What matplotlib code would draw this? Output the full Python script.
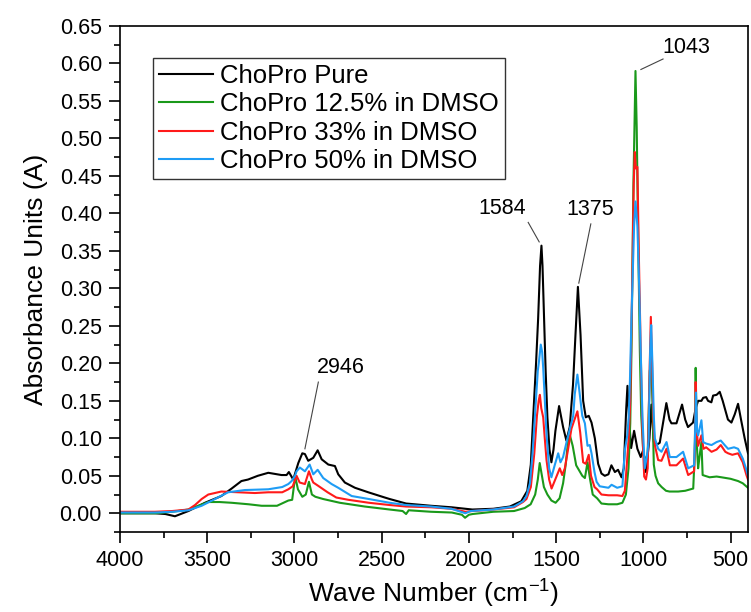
import matplotlib
matplotlib.use("Agg")
import matplotlib.pyplot as plt
from matplotlib.ticker import MultipleLocator, FormatStrFormatter

plt.rcParams["font.family"] = ["Liberation Sans", "DejaVu Sans"]
plt.rcParams["mathtext.default"] = "regular"

### --- data (wave number, absorbance) --- ###
pure = [
    (4000, 0.000), (3900, 0.000), (3800, 0.000), (3740, -0.001), (3685, -0.004),
    (3608, 0.003), (3513, 0.014), (3419, 0.023), (3360, 0.033), (3304, 0.043),
    (3266, 0.045), (3210, 0.050), (3150, 0.054), (3074, 0.051), (3045, 0.051),
    (3032, 0.055), (3007, 0.045), (2978, 0.067), (2955, 0.080), (2940, 0.079),
    (2921, 0.070), (2892, 0.074), (2867, 0.084), (2844, 0.072), (2806, 0.065),
    (2768, 0.063), (2749, 0.052), (2711, 0.041), (2653, 0.034), (2577, 0.028),
    (2482, 0.021), (2454, 0.019), (2360, 0.013), (2217, 0.010), (2100, 0.008),
    (1980, 0.005), (1860, 0.006), (1765, 0.009), (1700, 0.016), (1665, 0.030),
    (1645, 0.065), (1632, 0.125), (1615, 0.200), (1603, 0.260), (1592, 0.330),
    (1584, 0.357), (1578, 0.330), (1569, 0.260), (1560, 0.190), (1550, 0.128),
    (1538, 0.085), (1527, 0.068), (1515, 0.085), (1504, 0.110), (1483, 0.143),
    (1460, 0.115), (1441, 0.097), (1422, 0.115), (1403, 0.172), (1389, 0.238),
    (1375, 0.302), (1360, 0.238), (1345, 0.150), (1330, 0.128), (1313, 0.130),
    (1297, 0.121), (1278, 0.100), (1259, 0.066), (1240, 0.053), (1221, 0.050),
    (1200, 0.052), (1183, 0.064), (1163, 0.055), (1145, 0.058), (1125, 0.048),
    (1112, 0.060), (1098, 0.140), (1091, 0.170), (1080, 0.120), (1070, 0.087),
    (1053, 0.110), (1034, 0.086), (1015, 0.075), (1001, 0.084), (985, 0.055),
    (965, 0.100), (954, 0.145), (940, 0.095), (920, 0.092), (906, 0.094),
    (868, 0.147), (850, 0.125), (839, 0.120), (810, 0.120), (778, 0.145),
    (760, 0.125), (744, 0.115), (715, 0.121), (700, 0.140), (686, 0.150),
    (667, 0.150), (657, 0.154), (640, 0.155), (629, 0.150), (610, 0.148),
    (600, 0.157), (580, 0.158), (562, 0.162), (545, 0.150), (533, 0.140),
    (515, 0.125), (495, 0.121), (476, 0.132), (457, 0.146), (440, 0.125),
    (419, 0.100), (400, 0.080),
]

dmso_12 = [
    (4000, 0.000), (3800, 0.000), (3700, 0.002), (3608, 0.005), (3551, 0.010),
    (3494, 0.015), (3430, 0.015), (3360, 0.014), (3263, 0.012), (3188, 0.010),
    (3100, 0.010), (3035, 0.017), (3013, 0.018), (3001, 0.040), (2993, 0.046),
    (2980, 0.032), (2955, 0.022), (2935, 0.025), (2917, 0.042), (2900, 0.025),
    (2880, 0.022), (2835, 0.019), (2740, 0.014), (2597, 0.009), (2454, 0.005),
    (2380, 0.003), (2360, -0.001), (2345, 0.004), (2217, 0.002), (2098, 0.001),
    (2040, -0.002), (2022, -0.006), (2000, -0.002), (1979, -0.001), (1860, 0.002),
    (1741, 0.003), (1680, 0.007), (1646, 0.012), (1620, 0.025), (1605, 0.045),
    (1594, 0.067), (1585, 0.055), (1570, 0.035), (1550, 0.025), (1527, 0.017),
    (1503, 0.014), (1480, 0.020), (1460, 0.040), (1445, 0.065), (1432, 0.095),
    (1421, 0.104), (1405, 0.090), (1385, 0.064), (1370, 0.058), (1350, 0.050),
    (1335, 0.047), (1320, 0.068), (1305, 0.045), (1290, 0.025), (1265, 0.020),
    (1240, 0.013), (1200, 0.012), (1150, 0.012), (1120, 0.014), (1100, 0.025),
    (1085, 0.060), (1075, 0.120), (1068, 0.216), (1057, 0.436), (1045, 0.590),
    (1038, 0.515), (1030, 0.374), (1020, 0.216), (1012, 0.130), (1000, 0.080),
    (990, 0.070), (975, 0.080), (963, 0.190), (955, 0.200), (948, 0.150),
    (940, 0.065), (930, 0.050), (915, 0.040), (895, 0.035), (870, 0.030),
    (850, 0.029), (800, 0.029), (760, 0.030), (714, 0.033), (705, 0.080),
    (700, 0.194), (693, 0.090), (686, 0.060), (678, 0.075), (667, 0.095),
    (660, 0.051), (647, 0.050), (620, 0.048), (580, 0.049), (552, 0.048),
    (500, 0.046), (457, 0.043), (430, 0.040), (400, 0.034),
]

dmso_33 = [
    (4000, 0.002), (3800, 0.002), (3700, 0.003), (3608, 0.005), (3570, 0.011),
    (3532, 0.019), (3494, 0.025), (3419, 0.029), (3322, 0.028), (3227, 0.027),
    (3150, 0.028), (3070, 0.028), (3035, 0.032), (3010, 0.036), (2988, 0.050),
    (2970, 0.041), (2940, 0.039), (2917, 0.056), (2900, 0.045), (2892, 0.041),
    (2860, 0.036), (2810, 0.028), (2760, 0.021), (2692, 0.018), (2573, 0.014),
    (2454, 0.011), (2360, 0.009), (2217, 0.008), (2100, 0.006), (2020, 0.002),
    (1979, 0.003), (1860, 0.005), (1741, 0.008), (1690, 0.015), (1670, 0.019),
    (1645, 0.035), (1625, 0.080), (1610, 0.130), (1600, 0.150), (1593, 0.158),
    (1585, 0.140), (1574, 0.128), (1565, 0.100), (1555, 0.071), (1540, 0.045),
    (1526, 0.033), (1498, 0.049), (1479, 0.060), (1465, 0.051), (1450, 0.060),
    (1431, 0.086), (1412, 0.113), (1393, 0.126), (1378, 0.136), (1362, 0.108),
    (1345, 0.068), (1330, 0.066), (1313, 0.078), (1300, 0.050), (1280, 0.035),
    (1265, 0.032), (1240, 0.025), (1200, 0.024), (1150, 0.024), (1120, 0.023),
    (1106, 0.030), (1095, 0.064), (1084, 0.100), (1075, 0.150), (1064, 0.304),
    (1055, 0.440), (1049, 0.482), (1043, 0.460), (1034, 0.462), (1026, 0.348),
    (1015, 0.216), (1005, 0.106), (995, 0.049), (985, 0.045), (975, 0.060),
    (965, 0.180), (957, 0.262), (950, 0.200), (942, 0.120), (934, 0.091),
    (915, 0.071), (896, 0.070), (867, 0.086), (848, 0.064), (810, 0.064),
    (772, 0.073), (743, 0.051), (709, 0.056), (703, 0.100), (700, 0.175),
    (694, 0.110), (686, 0.090), (667, 0.104), (655, 0.086), (640, 0.088),
    (609, 0.082), (580, 0.085), (556, 0.091), (530, 0.082), (514, 0.080),
    (490, 0.078), (457, 0.080), (430, 0.068), (409, 0.051), (400, 0.045),
]

dmso_50 = [
    (4000, 0.001), (3800, 0.001), (3700, 0.002), (3608, 0.004), (3532, 0.010),
    (3456, 0.019), (3380, 0.028), (3284, 0.031), (3150, 0.032), (3070, 0.035),
    (3035, 0.039), (3016, 0.043), (2997, 0.050), (2988, 0.056), (2969, 0.061),
    (2940, 0.056), (2913, 0.065), (2892, 0.052), (2867, 0.058), (2835, 0.047),
    (2787, 0.039), (2749, 0.034), (2672, 0.023), (2573, 0.019), (2454, 0.014),
    (2360, 0.011), (2217, 0.009), (2100, 0.006), (2020, 0.000), (1990, 0.003),
    (1860, 0.005), (1741, 0.009), (1690, 0.016), (1670, 0.023), (1650, 0.040),
    (1635, 0.080), (1622, 0.128), (1605, 0.190), (1598, 0.203), (1588, 0.225),
    (1580, 0.215), (1574, 0.194), (1555, 0.106), (1540, 0.060), (1527, 0.048),
    (1507, 0.065), (1488, 0.080), (1475, 0.068), (1460, 0.075), (1440, 0.095),
    (1421, 0.113), (1402, 0.130), (1393, 0.159), (1378, 0.185), (1365, 0.160),
    (1350, 0.130), (1335, 0.120), (1320, 0.090), (1307, 0.091), (1297, 0.080),
    (1280, 0.055), (1268, 0.042), (1250, 0.036), (1200, 0.034), (1182, 0.038),
    (1150, 0.034), (1120, 0.036), (1106, 0.084), (1092, 0.104), (1084, 0.128),
    (1077, 0.175), (1068, 0.260), (1053, 0.383), (1045, 0.416), (1034, 0.383),
    (1024, 0.304), (1015, 0.216), (1005, 0.128), (992, 0.060), (980, 0.075),
    (970, 0.095), (961, 0.216), (955, 0.251), (948, 0.200), (940, 0.130),
    (934, 0.100), (915, 0.086), (896, 0.082), (867, 0.095), (848, 0.075),
    (810, 0.075), (772, 0.082), (743, 0.060), (709, 0.064), (703, 0.110),
    (698, 0.161), (692, 0.110), (686, 0.104), (667, 0.124), (657, 0.095),
    (640, 0.093), (609, 0.091), (580, 0.095), (556, 0.097), (530, 0.090),
    (514, 0.086), (480, 0.088), (457, 0.086), (430, 0.073), (409, 0.058),
    (400, 0.050),
]

series = [
    ("ChoPro Pure", pure, "black"),
    ("ChoPro 12.5% in DMSO", dmso_12, "#1a991a"),
    ("ChoPro 33% in DMSO", dmso_33, "#ff1a1a"),
    ("ChoPro 50% in DMSO", dmso_50, "#1e9cf5"),
]

# peak labels: text, text position, leader line start, leader line end
peak_labels = [
    ("2946", (2733, 0.195), (2863, 0.175), (2940, 0.086)),
    ("1584", (1810, 0.406), (1660, 0.388), (1597, 0.362)),
    ("1375", (1307, 0.405), (1301, 0.386), (1370, 0.307)),
    ("1043", (753, 0.621), (887, 0.606), (1014, 0.592)),
]

fig = plt.figure(figsize=(7.51, 6.12), dpi=100)
ax = fig.add_axes([0.1598, 0.1307, 0.8362, 0.8268])

for name, pts, col in series:
    wn = [p[0] for p in pts]
    ab = [p[1] for p in pts]
    ax.plot(wn, ab, color=col, lw=1.5, label=name)

for txt, tpos, l0, l1 in peak_labels:
    ax.plot([l0[0], l1[0]], [l0[1], l1[1]], color="#444444", lw=0.8)
    ax.text(tpos[0], tpos[1], txt, fontsize=15.5, ha="center", va="center")

ax.set_xlim(4000, 400)
ax.set_ylim(-0.025, 0.65)
ax.xaxis.set_major_locator(MultipleLocator(500))
ax.xaxis.set_minor_locator(MultipleLocator(250))
ax.yaxis.set_major_locator(MultipleLocator(0.05))
ax.yaxis.set_minor_locator(MultipleLocator(0.025))
ax.yaxis.set_major_formatter(FormatStrFormatter("%.2f"))
ax.tick_params(which="both", direction="out", top=False, right=False,
               labelsize=15.5, width=1.2)
ax.tick_params(which="major", length=8, pad=5)
ax.tick_params(which="minor", length=4.3)
for sp in ax.spines.values():
    sp.set_linewidth(1.2)

ax.set_xlabel("Wave Number (cm$^{-1}$)", fontsize=19, labelpad=5)
ax.set_ylabel("Absorbance Units (A)", fontsize=19, labelpad=8)

leg = ax.legend(loc="upper left", bbox_to_anchor=(0.0525, 0.937), borderaxespad=0,
                fontsize=18.5, frameon=True, fancybox=False, framealpha=1,
                edgecolor="#333333", handlelength=2.1, handletextpad=0.3,
                labelspacing=0.18, borderpad=0.22)
leg.get_frame().set_linewidth(1.0)

fig.savefig("out.png", dpi=100)
